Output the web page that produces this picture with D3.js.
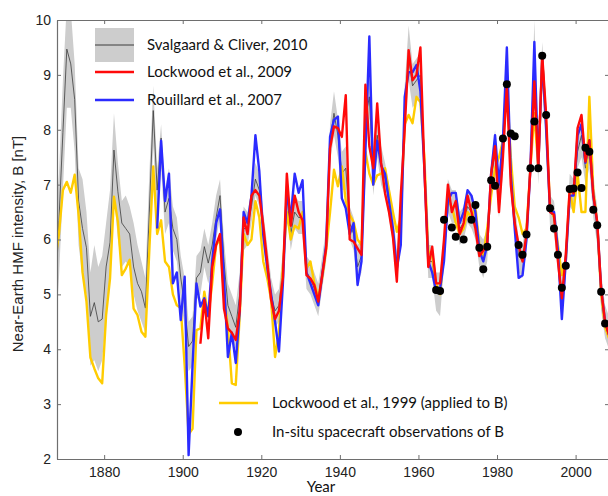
<!DOCTYPE html>
<html>
<head>
<meta charset="utf-8">
<script src="https://cdn.jsdelivr.net/npm/d3@7"></script>
<style>
  body { margin: 0; background: #fff; }
  svg { display: block; }
  .tick text { font-family: "Liberation Sans", Arial, sans-serif; font-size: 14px; fill: #222; }
  .lg { font-family: Lato, "Open Sans", sans-serif; font-size: 15px; fill: #111; }
</style>
</head>
<body>
<div id="chart"></div>
<script>
// annual values, first year given separately; plotted at mid-year
var svalStart = 1867;
var svalgaard = [4.75,6.35,7.95,9.47,9.2,8.55,6.7,6.2,5.85,4.6,4.85,4.5,4.55,5.5,5.95,7.63,6.87,6.3,6.2,6.1,5.5,5.2,5.05,4.75,
  6.5,8.35,6.9,7.85,6.5,6.75,6.2,6.0,5.3,4.8,4.05,4.15,5.3,5.4,5.87,5.57,5.9,6.4,6.8,5.6,4.8,4.6,4.4,5.0,6.2,6.2,6.6,7.1,6.9,
  6.2,5.6,5.0,4.7,4.8,5.5,6.8,6.1,6.5,6.4,6.4,5.4,5.3,5.1,4.9,5.4,5.9,7.8,8.3,7.9,7.2,7.3,6.3,6.1,5.5,5.7,8.2,8.6,7.2,7.9,7.4,
  7.1,6.7,6.2,5.5,6.3,8.4,9.3,8.8,8.9,9.0,7.3,5.6,5.6,5.1,5.1,5.8,6.8,6.6,6.6,6.2,6.3,6.6,6.5,6.3,5.8,5.7,5.9,7.1,7.6,6.7,7.6,
  8.9,7.2,6.4,5.7,5.6,6.1,7.3,9.2,7.4,9.3,8.2,6.5,6.4,5.8,5.0,5.6,6.9,6.8,7.6,7.9,7.3,7.6,6.8,6.3,5.1,4.5,4.3];
var svalLow = [4.2,5.3,6.9,8.4,8.4,7.6,5.9,5.3,5.0,3.7,3.8,3.6,3.8,4.6,5.3,6.8,6.0,5.5,5.6,5.5,5.0,4.7,4.5,4.3,
  6.0,7.7,6.4,7.3,6.1,6.3,5.8,5.6,4.9,4.4,3.6,3.7,4.9,5.0,5.5,5.2,5.5,6.0,6.4,5.2,4.4,4.2,4.0,4.6,5.8,5.9,6.3,6.8,6.6,
  5.9,5.3,4.7,4.4,4.5,5.2,6.5,5.8,6.2,6.1,6.1,5.1,5.0,4.8,4.6,5.1,5.6,7.4,7.9,7.5,6.9,6.9,6.0,5.8,5.2,5.4,7.8,8.2,6.8,7.5,7.0,
  6.8,6.4,5.9,5.2,5.9,8.0,8.9,8.4,8.5,8.6,6.9,5.3,5.3,4.7,4.6,5.5,6.5,6.3,6.3,5.9,6.0,6.3,6.2,6.0,5.5,5.3,5.6,6.8,7.2,6.4,7.2,
  8.5,6.9,6.1,5.4,5.3,5.8,7.0,8.7,7.0,8.9,7.9,6.2,6.1,5.5,4.6,5.3,6.6,6.5,7.3,7.5,7.0,7.3,6.4,5.9,4.7,4.2,4.0];
var svalHigh = [6.2,7.2,8.9,10.3,10.2,9.2,7.3,7.1,6.5,5.4,5.9,5.5,5.7,6.3,6.9,8.3,7.4,6.7,6.8,6.6,6.3,5.9,5.6,5.3,
  7.2,8.8,7.3,8.1,6.9,7.3,6.6,6.4,5.7,5.3,4.5,4.6,5.7,5.8,6.2,5.9,6.3,6.8,7.1,6.0,5.2,5.0,4.8,5.4,6.6,6.5,6.9,7.4,7.2,
  6.5,5.9,5.3,5.0,5.1,5.8,7.1,6.4,6.8,6.7,6.7,5.7,5.6,5.4,5.2,5.7,6.2,8.1,8.7,8.2,7.6,7.7,6.6,6.4,5.9,6.0,8.6,9.1,7.6,8.3,7.7,
  7.4,7.0,6.5,5.8,6.6,8.8,9.9,9.2,9.3,9.4,7.7,5.9,5.9,5.4,5.4,6.1,7.1,6.9,6.9,6.5,6.6,6.9,6.8,6.6,6.1,6.0,6.2,7.4,8.0,7.0,8.0,
  9.4,7.6,6.7,6.0,5.9,6.4,7.6,10.0,7.7,9.6,8.5,6.8,6.7,6.1,5.3,5.9,7.2,7.1,7.9,8.2,7.6,8.0,7.1,6.6,5.4,4.8,4.6];

var lock99Start = 1867;
var lockwood1999 = [5.6,6.1,6.9,7.05,6.85,7.18,6.45,5.4,4.87,3.85,3.65,3.47,3.38,4.62,5.29,6.78,6.32,5.35,5.47,5.63,4.74,4.62,4.32,4.23,
  5.8,7.33,6.1,6.35,5.6,5.5,5.0,4.8,4.75,3.7,2.45,2.55,4.35,4.38,5.05,4.6,5.2,5.9,6.0,5.0,4.4,3.38,3.35,4.6,6.1,5.9,6.0,6.7,6.4,
  5.6,5.3,4.9,3.86,4.3,5.5,6.5,6.0,6.25,6.2,6.5,5.47,5.6,5.2,4.95,5.3,5.8,6.5,7.27,6.97,7.33,6.7,6.45,6.32,6.0,5.9,7.6,7.2,7.0,
  7.17,7.2,7.3,6.9,6.5,6.14,6.4,8.1,8.27,8.12,8.6,8.5,7.5,5.8,5.7,5.2,5.0,5.8,6.7,6.6,6.3,6.1,6.2,6.5,6.4,6.6,5.9,5.7,6.2,6.8,
  7.3,7.5,7.8,8.8,7.5,6.6,6.4,6.1,6.2,7.3,8.3,7.3,9.3,8.1,6.6,6.4,5.9,5.35,5.6,6.9,6.5,7.2,6.5,6.5,8.6,6.9,6.3,5.0,4.4,4.2];

var rouStart = 1893;
var rouillard = [6.2,7.8,6.7,7.2,5.2,5.4,4.53,5.32,2.07,3.7,5.2,4.78,4.93,4.6,5.6,6.3,6.55,5.29,3.86,4.3,3.75,4.7,6.5,6.3,
  6.8,7.9,7.24,6.08,5.5,5.0,4.5,3.96,5.2,6.9,6.4,7.2,6.85,7.08,5.4,5.2,5.0,4.8,5.35,5.9,7.87,8.18,8.24,6.75,6.57,6.1,6.3,5.17,
  5.6,7.6,9.7,7.0,7.8,7.35,7.2,6.7,6.2,5.47,5.9,8.6,9.05,9.05,9.18,8.7,7.3,5.6,5.4,5.05,5.1,5.6,6.7,6.85,6.85,6.3,6.5,6.9,6.8,
  6.5,5.8,5.6,5.9,7.2,7.9,7.0,7.8,9.5,7.2,6.2,5.3,5.35,6.0,7.3,9.6,7.3,9.3,8.0,6.5,6.5,5.8,4.55,5.6,6.8,6.8,7.9,8.1,7.4,7.8,
  6.8,6.3,5.1,4.5,4.26];

var lock09Start = 1904;
var lockwood2009 = [4.1,4.9,4.2,5.5,5.9,6.1,4.74,4.38,4.3,4.17,4.7,6.4,6.1,6.8,6.9,6.8,6.26,5.6,4.9,4.55,4.7,5.3,7.2,6.25,6.8,
  6.5,6.35,5.35,5.29,5.17,4.87,5.35,5.84,7.66,8.06,8.03,7.87,8.63,6.0,5.96,5.84,5.72,8.82,7.7,7.3,8.48,7.4,6.84,6.5,6.05,5.23,
  6.8,8.0,9.45,8.9,9.0,9.5,7.3,5.5,5.87,5.2,5.2,6.0,7.0,6.5,6.7,6.1,6.3,6.8,6.5,6.2,5.7,5.8,5.9,7.2,7.7,6.5,7.5,8.8,7.0,6.3,
  5.9,5.6,6.1,7.3,8.88,7.3,9.36,8.27,6.5,6.45,5.6,4.93,5.72,6.93,6.84,8.03,8.27,7.42,7.81,6.81,6.32,5.1,4.5,4.26];

var obsYears = [1964,1965,1966,1968,1969,1971,1973,1974,1975,1976,1977,1978,1979,1981,1982,1983,1984,1985,1986,1987,1988,
  1989,1990,1991,1992,1993,1994,1995,1996,1997,1998,1999,2000,2001,2002,2003,2004,2005,2006,2007];
var obsB = [5.08,5.06,6.36,6.22,6.05,6.0,6.36,6.63,5.85,5.46,5.87,7.08,6.98,7.84,8.83,7.93,7.88,5.9,5.72,6.09,7.3,
  8.15,7.3,9.35,8.27,6.57,6.2,5.72,5.12,5.52,6.92,6.93,7.22,6.94,7.67,7.6,6.54,6.26,5.05,4.47];

var yTicks = [2,3,4,5,6,7,8,9,10];
var xTicks = [1880,1900,1920,1940,1960,1980,2000];

var width = 608, height = 496;
var plotL = 57, plotR = 609, plotT = 20, plotB = 459;

var svg = d3.select('#chart').append('svg').attr('width', width).attr('height', height);

var x = d3.scaleLinear().domain([1868, 2008.5]).range([plotL, plotR]);
var y = d3.scaleLinear().domain([2, 10]).range([plotB, plotT]);

function pts(start, vals) {
  return vals.map(function(v, i) { return { yr: start + i + 0.5, v: v }; });
}

svg.append('clipPath').attr('id', 'plotclip').append('rect')
  .attr('x', plotL).attr('y', plotT).attr('width', plotR - plotL).attr('height', plotB - plotT);

var plot = svg.append('g').attr('clip-path', 'url(#plotclip)');

var band = svalHigh.map(function(h, i) { return { yr: svalStart + i + 0.5, lo: svalLow[i], hi: h }; });
plot.append('path').datum(band)
  .attr('fill', '#cdcdcd')
  .attr('d', d3.area().x(function(d) { return x(d.yr); }).y0(function(d) { return y(d.lo); }).y1(function(d) { return y(d.hi); }));

var line = d3.line().x(function(d) { return x(d.yr); }).y(function(d) { return y(d.v); });

plot.append('path').datum(pts(svalStart, svalgaard))
  .attr('fill', 'none').attr('stroke', '#3c3c3c').attr('stroke-width', 0.8).attr('d', line);
plot.append('path').datum(pts(lock99Start, lockwood1999))
  .attr('fill', 'none').attr('stroke', '#ffcc00').attr('stroke-width', 2.4).attr('stroke-linejoin', 'round').attr('d', line);
plot.append('path').datum(pts(rouStart, rouillard))
  .attr('fill', 'none').attr('stroke', '#2b2bff').attr('stroke-width', 2.4).attr('stroke-linejoin', 'round').attr('d', line);
plot.append('path').datum(pts(lock09Start, lockwood2009))
  .attr('fill', 'none').attr('stroke', '#ff0a0a').attr('stroke-width', 2.4).attr('stroke-linejoin', 'round').attr('d', line);

plot.selectAll('.obs').data(obsYears).enter().append('circle')
  .attr('class', 'obs')
  .attr('cx', function(d) { return x(d + 0.5); })
  .attr('cy', function(d, i) { return y(obsB[i]); })
  .attr('r', 4).attr('fill', '#000');

// axes, ticks pointing inward
var axisColor = '#6e6e6e';
var gx = svg.append('g').attr('transform', 'translate(0,' + plotB + ')')
  .call(d3.axisBottom(x).tickValues(xTicks).tickFormat(d3.format('d')).tickSizeInner(-4).tickSizeOuter(0).tickPadding(8));
var gxt = svg.append('g').attr('transform', 'translate(0,' + plotT + ')')
  .call(d3.axisTop(x).tickValues(xTicks).tickFormat('').tickSizeInner(-4).tickSizeOuter(0));
var gy = svg.append('g').attr('transform', 'translate(' + plotL + ',0)')
  .call(d3.axisLeft(y).tickValues(yTicks).tickFormat(d3.format('d')).tickSizeInner(-4).tickSizeOuter(0).tickPadding(6));
var gyr = svg.append('g').attr('transform', 'translate(' + plotR + ',0)')
  .call(d3.axisRight(y).tickValues(yTicks).tickFormat('').tickSizeInner(-4).tickSizeOuter(0));
[gx, gxt, gy, gyr].forEach(function(g) {
  g.select('.domain').attr('stroke', axisColor).attr('stroke-width', 1.2);
  g.selectAll('.tick line').attr('stroke', axisColor);
});

svg.append('text')
  .attr('transform', 'translate(18,244) rotate(-90)')
  .attr('text-anchor', 'middle').attr('dy', '0.35em')
  .style('font-family', '"Liberation Sans", Arial, sans-serif').style('font-size', '15px').style('fill', '#222')
  .text('Near-Earth HMF intensity, B [nT]');

svg.append('text').attr('class', 'lg')
  .attr('x', 321).attr('y', 487).attr('text-anchor', 'middle').attr('dy', '0.35em')
  .text('Year');

// legend
var lg = svg.append('g');
lg.append('rect').attr('x', 95).attr('y', 28).attr('width', 39).attr('height', 34).attr('fill', '#cdcdcd');
lg.append('line').attr('x1', 95).attr('x2', 134).attr('y1', 45).attr('y2', 45).attr('stroke', '#3c3c3c').attr('stroke-width', 1);
lg.append('line').attr('x1', 95).attr('x2', 134).attr('y1', 72).attr('y2', 72).attr('stroke', '#ff0a0a').attr('stroke-width', 2.5);
lg.append('line').attr('x1', 95).attr('x2', 134).attr('y1', 100).attr('y2', 100).attr('stroke', '#2b2bff').attr('stroke-width', 2.5);
lg.append('line').attr('x1', 219).attr('x2', 258).attr('y1', 403).attr('y2', 403).attr('stroke', '#ffcc00').attr('stroke-width', 2.5);
lg.append('circle').attr('cx', 238).attr('cy', 432).attr('r', 4).attr('fill', '#000');

var legendText = [
  [147, 45, 'Svalgaard & Cliver, 2010'],
  [147, 72, 'Lockwood et al., 2009'],
  [147, 100, 'Rouillard et al., 2007'],
  [272, 403, 'Lockwood et al., 1999 (applied to B)'],
  [272, 432, 'In-situ spacecraft observations of B']
];
lg.selectAll('.lgt').data(legendText).enter().append('text')
  .attr('class', 'lg')
  .attr('x', function(d) { return d[0]; })
  .attr('y', function(d) { return d[1]; })
  .attr('dy', '0.35em')
  .text(function(d) { return d[2]; });
</script>
</body>
</html>
